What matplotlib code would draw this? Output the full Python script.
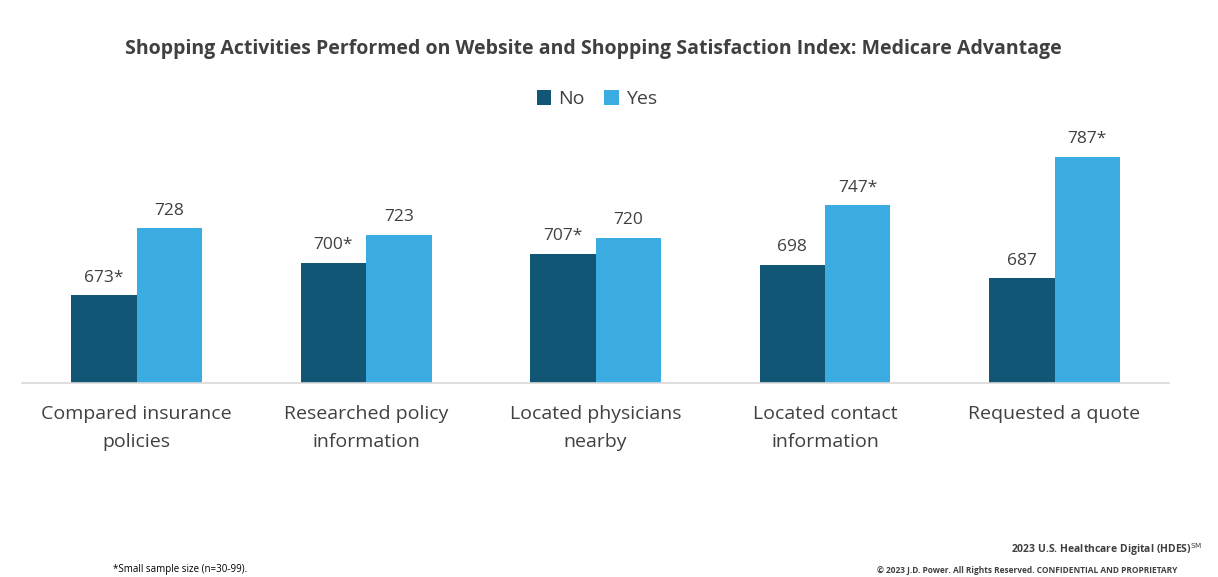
import matplotlib
matplotlib.use('Agg')
import matplotlib.pyplot as plt
import numpy as np

plt.rcParams['font.family'] = ['Open Sans', 'DejaVu Sans']

categories = ['Compared insurance\npolicies', 'Researched policy\ninformation',
              'Located physicians\nnearby', 'Located contact\ninformation',
              'Requested a quote']
no_vals = [673, 700, 707, 698, 687]
yes_vals = [728, 723, 720, 747, 787]
no_labels = ['673*', '700*', '707*', '698', '687']
yes_labels = ['728', '723', '720', '747*', '787*']

c_no = '#115675'
c_yes = '#3AACE2'
txt = '#404040'

fig = plt.figure(figsize=(12.18, 5.77), dpi=100)
ax = fig.add_axes([0.018, 0.336, 0.942, 0.42])

x = np.arange(len(categories))
w = 0.285
b1 = ax.bar(x - w/2, no_vals, w, color=c_no, label='No')
b2 = ax.bar(x + w/2, yes_vals, w, color=c_yes, label='Yes')

for bars, labs in [(b1, no_labels), (b2, yes_labels)]:
    for r, lab in zip(bars, labs):
        ax.annotate(lab, (r.get_x() + r.get_width()/2, r.get_height()),
                    xytext=(0, 7), textcoords='offset points',
                    ha='center', va='bottom', fontsize=12.5, color=txt)

ax.set_ylim(601, 800)
ax.set_xlim(-0.5, 4.5)
ax.set_yticks([])
ax.set_xticks(x)
ax.set_xticklabels(categories, fontsize=14, color=txt, linespacing=1.7)
ax.tick_params(axis='x', length=0, pad=16)
for s in ['top', 'right', 'left']:
    ax.spines[s].set_visible(False)
ax.spines['bottom'].set_color('#D9D9D9')
ax.spines['bottom'].set_linewidth(1.2)

fig.text(0.487, 0.915, 'Shopping Activities Performed on Website and Shopping Satisfaction Index: Medicare Advantage',
         ha='center', va='center', fontsize=14, fontweight='bold', color=txt)

fig.legend(handles=[b1, b2], labels=['No', 'Yes'], loc='center', bbox_to_anchor=(0.49, 0.828),
           ncol=2, frameon=False, fontsize=14, handlelength=0.75, handleheight=0.75,
           handletextpad=0.35, columnspacing=1.0, labelcolor=txt)

fig.text(0.093, 0.003, '*Small sample size (n=30-99).', fontsize=7, color='black', va='bottom')
fig.text(0.987, 0.033, '2023 U.S. Healthcare Digital (HDES)$^{\\mathrm{SM}}$', fontsize=7.5,
         fontweight='bold', color=txt, ha='right', va='bottom')
fig.text(0.967, 0.003, '\u00a9 2023 J.D. Power. All Rights Reserved. CONFIDENTIAL AND PROPRIETARY',
         fontsize=6, fontweight='bold', color=txt, ha='right', va='bottom')

fig.savefig('out.png', dpi=100)
